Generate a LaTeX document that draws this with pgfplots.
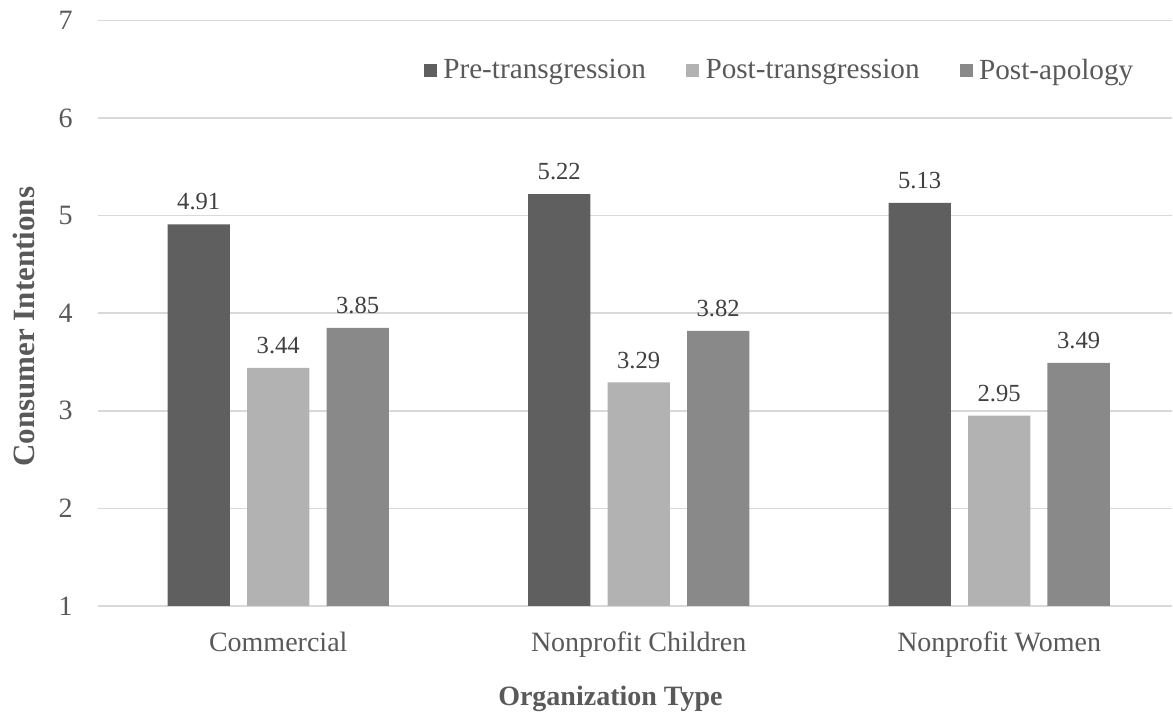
\documentclass[border=0pt]{standalone}
\usepackage{fontspec}
\setmainfont{Liberation Serif}
\usepackage{pgfplots}
\pgfplotsset{compat=1.18}
\definecolor{cDark}{HTML}{5F5F5F}
\definecolor{cLight}{HTML}{B2B2B2}
\definecolor{cMid}{HTML}{898989}
\definecolor{cGrid}{HTML}{D9D9D9}
\definecolor{cText}{HTML}{595959}
\definecolor{cLabel}{HTML}{404040}
\begin{document}
\begin{tikzpicture}
\useasboundingbox (-49bp,-53.5bp) rectangle (537.5bp,303bp);
\begin{axis}[
  at={(0,0)}, anchor=south west,
  scale only axis, width=537.1bp, height=292.8bp,
  ybar, bar width=0.173,
  xmin=-0.5, xmax=2.48, ymin=1, ymax=7,
  ytick={1,2,3,4,5,6,7},
  xtick={0,1,2},
  xticklabels={Commercial, Nonprofit Children, Nonprofit Women},
  axis line style={draw=none},
  major tick length=0pt,
  ymajorgrids, grid style={cGrid, line width=0.75bp},
  /pgf/number format/assume math mode=true,
  ticklabel style={font=\fontsize{14bp}{16bp}\selectfont, text=cText},
  yticklabel style={anchor=east, inner sep=0pt, xshift=-12.5bp},
  xticklabel style={anchor=base, inner sep=0pt, yshift=-22.5bp},
  xlabel={Organization Type}, ylabel={Consumer Intentions},
  xlabel style={font=\bfseries\fontsize{14bp}{16bp}\selectfont, text=cText,
    at={(axis description cs:0.477,0)}, anchor=base, yshift=-49.5bp, inner sep=0pt},
  ylabel style={font=\bfseries\fontsize{15.5bp}{17bp}\selectfont, text=cText,
    at={(axis description cs:-0.0689,0.477)}, anchor=center, inner sep=0pt},
  nodes near coords={\pgfmathprintnumber[fixed,fixed zerofill,precision=2]{\pgfplotspointmeta}},
  every node near coord/.append style={font=\fontsize{12.3bp}{14bp}\selectfont,
    text=cLabel, inner sep=0pt, anchor=south, yshift=6.85bp},
  legend columns=3,
  legend style={at={(axis description cs:0.3033,0.9146)}, anchor=west,
    draw=none, fill=none, inner sep=0pt, outer sep=0pt,
    column sep=3.25bp,
    font=\fontsize{14.6bp}{17bp}\selectfont, text=cText,
    nodes={inner sep=0pt},
    /tikz/every even column/.append style={column sep=20bp}},
]
\addplot[fill=cDark, draw=none, bar shift=-0.2205,
  legend image code/.code={\fill[cDark] (0bp,-3.25bp) rectangle (6.5bp,3.25bp);}]
  coordinates {(0,4.91) (1,5.22) (2,5.13)};
\addplot[fill=cLight, draw=none, bar shift=0,
  legend image code/.code={\fill[cLight] (0bp,-3.25bp) rectangle (6.5bp,3.25bp);}]
  coordinates {(0,3.44) (1,3.29) (2,2.95)};
\addplot[fill=cMid, draw=none, bar shift=0.2205,
  legend image code/.code={\fill[cMid] (0bp,-3.25bp) rectangle (6.5bp,3.25bp);}]
  coordinates {(0,3.85) (1,3.82) (2,3.49)};
\legend{Pre-transgression, Post-transgression, Post-apology}
\end{axis}
\end{tikzpicture}
\end{document}
